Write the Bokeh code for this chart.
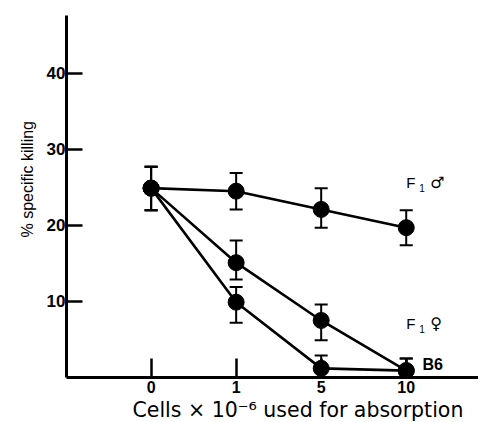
from bokeh.plotting import figure
from bokeh.models import Range1d, FixedTicker, Whisker, ColumnDataSource, TeeHead, Title
from bokeh.embed import file_html
from bokeh.resources import INLINE
from bokeh.core.properties import value

# ---- data ----
doses = ["0", "1", "5", "10"]            # Cells x 10^-6 used for absorption
xpos = [0, 1, 2, 3]                      # equally spaced categories

f1_male = [24.9, 24.5, 22.1, 19.7]
f1_male_hi = [27.7, 26.9, 24.9, 22.0]
f1_male_lo = [22.0, 22.1, 19.7, 17.4]

f1_female = [24.9, 15.1, 7.5, 0.9]
f1_female_hi = [27.7, 18.0, 9.6, 2.5]
f1_female_lo = [22.0, 12.9, 4.9, 0.0]

b6 = [24.9, 9.9, 1.2, 0.9]
b6_hi = [27.7, 11.9, 2.9, 2.5]
b6_lo = [22.0, 7.2, 0.0, 0.0]

y_ticks = [10, 20, 30, 40]
x_title = "Cells \u00d7 10\u207b\u2076 used for absorption"
y_title = "% specific killing"

FONT = "Liberation Sans"

p = figure(width=478, height=422, output_backend="svg", toolbar_location=None,
           x_range=Range1d(-0.995, 3.85), y_range=Range1d(0, 47.6),
           frame_width=412, frame_height=362,
           min_border_left=66, min_border_top=15, min_border_bottom=45, min_border_right=0)
p.outline_line_color = None
p.grid.visible = False
p.background_fill_color = "white"

series = [(f1_male, f1_male_hi, f1_male_lo),
          (f1_female, f1_female_hi, f1_female_lo),
          (b6, b6_hi, b6_lo)]

for vals, hi, lo in series:
    src = ColumnDataSource(dict(x=xpos, y=vals, hi=hi, lo=lo))
    p.line("x", "y", source=src, line_color="black", line_width=2.6)
    w = Whisker(base="x", upper="hi", lower="lo", source=src, line_color="black", line_width=2,
                upper_head=TeeHead(size=13, line_color="black", line_width=2),
                lower_head=TeeHead(size=13, line_color="black", line_width=2))
    p.add_layout(w)
    p.scatter("x", "y", source=src, size=16, fill_color="black", line_color="black")

# axes
p.xaxis.ticker = FixedTicker(ticks=xpos)
p.xaxis.major_label_overrides = {x: d for x, d in zip(xpos, doses)}
p.xaxis.major_tick_in = 19
p.xaxis.major_tick_out = 0
p.xaxis.minor_tick_line_color = None
p.xaxis.axis_line_width = 3
p.xaxis.major_tick_line_width = 2.5
p.xaxis.major_label_text_font = FONT
p.xaxis.major_label_text_font_style = "bold"
p.xaxis.major_label_text_font_size = "16px"
p.xaxis.major_label_text_color = "black"
p.xaxis.major_label_standoff = 3

p.yaxis.ticker = FixedTicker(ticks=y_ticks)
p.yaxis.major_tick_in = 16
p.yaxis.major_tick_out = 0
p.yaxis.minor_tick_line_color = None
p.yaxis.axis_line_width = 3
p.yaxis.major_tick_line_width = 2.5
p.yaxis.major_label_text_font = FONT
p.yaxis.major_label_text_font_style = "bold"
p.yaxis.major_label_text_font_size = "17px"
p.yaxis.major_label_text_color = "black"
p.yaxis.major_label_standoff = 1

# axis titles (both sit off-centre, as in the reference)
p.add_layout(Title(text=y_title, align="left", offset=140, standoff=15,
                   text_font=FONT, text_font_size="16px", text_font_style="normal",
                   text_color="black"), "left")
p.add_layout(Title(text=x_title, align="left", offset=66, standoff=0,
                   text_font="DejaVu Sans", text_font_size="20.5px", text_font_style="normal",
                   text_color="black"), "below")

# series labels
labels = ["F", "1", "\u2642", "F", "1", "\u2640", "B6"]
p.text(x=[3.0], y=[25.6], text=[labels[0]], text_font=value(FONT), text_font_size="15px",
       text_baseline="middle", text_align="left", text_color="black")
p.text(x=[3.0], y=[25.6], text=[labels[1]], text_font=value(FONT), text_font_size="10px",
       text_baseline="middle", text_align="left", text_color="black", x_offset=13, y_offset=5)
p.text(x=[3.0], y=[25.6], text=[labels[2]], text_font=value("DejaVu Sans"), text_font_size="16px",
       text_baseline="middle", text_align="left", text_color="black", x_offset=24)
p.text(x=[3.0], y=[7.1], text=[labels[3]], text_font=value(FONT), text_font_size="15px",
       text_baseline="middle", text_align="left", text_color="black")
p.text(x=[3.0], y=[7.1], text=[labels[4]], text_font=value(FONT), text_font_size="10px",
       text_baseline="middle", text_align="left", text_color="black", x_offset=13, y_offset=5)
p.text(x=[3.0], y=[7.1], text=[labels[5]], text_font=value("DejaVu Sans"), text_font_size="16px",
       text_baseline="middle", text_align="left", text_color="black", x_offset=24)
p.text(x=[3.19], y=[1.7], text=[labels[6]], text_font=value(FONT), text_font_size="16px",
       text_font_style="bold", text_baseline="middle", text_align="left", text_color="black")

open("out.html", "w").write(file_html(p, INLINE))
